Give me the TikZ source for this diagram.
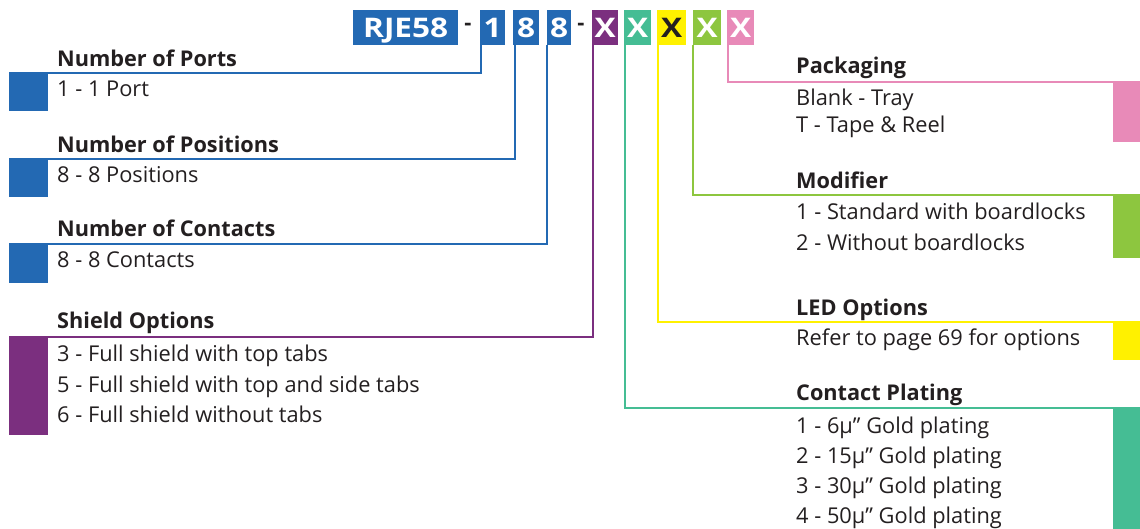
\documentclass[tikz,border=0pt]{standalone}
\usepackage{fontspec}
\setmainfont{Open Sans}
\newfontfamily\hdrfont[FakeStretch=1.17]{Open Sans}
\definecolor{cblue}{HTML}{2369B3}
\definecolor{cpurple}{HTML}{7B2F7F}
\definecolor{cteal}{HTML}{45BD94}
\definecolor{cyellow}{HTML}{FFF100}
\definecolor{clime}{HTML}{8DC63F}
\definecolor{cpink}{HTML}{E88AB8}
\definecolor{txt}{HTML}{231F20}
\begin{document}
\begin{tikzpicture}[x=1pt,y=-1pt,
  hdr/.style={anchor=north west, inner sep=0pt, minimum height=35pt, text=white,
    text height=19.5pt, text depth=0pt,
    font=\hdrfont\fontsize{27}{27}\selectfont\bfseries},
  hyph/.style={inner sep=0pt, text=txt, font=\fontsize{22}{22}\selectfont\bfseries},
  sq/.style={anchor=north west, inner sep=0pt, draw=none},
  lbl/.style={anchor=base west, inner sep=0pt, text=txt, font=\fontsize{21.8}{21.8}\selectfont},
  ttl/.style={anchor=base west, inner sep=0pt, text=txt, font=\fontsize{21.7}{21.7}\selectfont\bfseries},
  conn/.style={line width=2.2pt}]
\useasboundingbox (0,0) rectangle (1140,529);
% header
\node[hdr, fill=cblue, minimum width=105pt] (rje) at (353,10) {RJE58};
\node[hyph] (d1) at (468,27) {-};
\node[hdr, fill=cblue, minimum width=25pt] (b1) at (480,10) {1};
\node[hdr, fill=cblue, minimum width=26pt] (b2) at (513,10) {8};
\node[hdr, fill=cblue, minimum width=24pt] (b3) at (547,10) {8};
\node[hyph] (d2) at (581,27) {-};
\node[hdr, fill=cpurple, minimum width=26pt] (xs) at (592,10) {X};
\node[hdr, fill=cteal, minimum width=27pt] (xc) at (624,10) {X};
\node[hdr, fill=cyellow, minimum width=29pt, text=txt] (xl) at (657,10) {X};
\node[hdr, fill=clime, minimum width=28pt] (xm) at (693,10) {X};
\node[hdr, fill=cpink, minimum width=27pt] (xp) at (727,10) {X};
% left squares
\node[sq, fill=cblue, minimum width=39pt, minimum height=39pt] (sqA) at (9,72) {};
\node[sq, fill=cblue, minimum width=39pt, minimum height=39pt] (sqB) at (9,158) {};
\node[sq, fill=cblue, minimum width=39pt, minimum height=40pt] (sqC) at (9,243) {};
\node[sq, fill=cpurple, minimum width=39pt, minimum height=99pt] (sqD) at (9,336) {};
% right squares
\node[sq, fill=cpink, minimum width=27pt, minimum height=61pt] (sqP) at (1113,81) {};
\node[sq, fill=clime, minimum width=27pt, minimum height=64pt] (sqM) at (1113,194) {};
\node[sq, fill=cyellow, minimum width=27pt, minimum height=39pt] (sqL) at (1113,321) {};
\node[sq, fill=cteal, minimum width=27pt, minimum height=122pt] (sqT) at (1113,407) {};
% connectors
\draw[conn, cblue] ([xshift=1pt]b1.south west) |- ([yshift=-1pt]sqA.north east);
\draw[conn, cblue] ([xshift=2pt]b2.south west) |- ([yshift=-1pt]sqB.north east);
\draw[conn, cblue] ([xshift=0pt]b3.south west) |- ([yshift=-1pt]sqC.north east);
\draw[conn, cpurple] ([xshift=1pt]xs.south west) |- ([yshift=-1pt]sqD.north east);
\draw[conn, cteal] ([xshift=1pt]xc.south west) |- ([yshift=-1pt]sqT.north west);
\draw[conn, cyellow] ([xshift=1pt]xl.south west) |- ([yshift=-1pt]sqL.north west);
\draw[conn, clime] ([xshift=0pt]xm.south west) |- ([yshift=-1pt]sqM.north west);
\draw[conn, cpink] ([xshift=1pt]xp.south west) |- ([yshift=-1pt]sqP.north west);
% left texts
\node[ttl] (tA) at (57,67) {Number of Ports};
\node[lbl] (lA1) at (57,97) {1 - 1 Port};
\node[ttl] (tB) at (57,153) {Number of Positions};
\node[lbl] (lB1) at (57,183) {8 - 8 Positions};
\node[ttl] (tC) at (57,237) {Number of Contacts};
\node[lbl] (lC1) at (57,268) {8 - 8 Contacts};
\node[ttl] (tD) at (57,328) {Shield Options};
\node[lbl] (lD1) at (57,361) {3 - Full shield with top tabs};
\node[lbl] (lD2) at (57,392) {5 - Full shield with top and side tabs};
\node[lbl] (lD3) at (57,422) {6 - Full shield without tabs};
% right texts
\node[ttl] (tP) at (796,74) {Packaging};
\node[lbl] (lP1) at (796,106) {Blank - Tray};
\node[lbl] (lP2) at (796,133) {T - Tape \& Reel};
\node[ttl] (tM) at (796,189) {Modifier};
\node[lbl] (lM1) at (796,220) {1 - Standard with boardlocks};
\node[lbl] (lM2) at (796,251) {2 - Without boardlocks};
\node[ttl] (tL) at (796,315) {LED Options};
\node[lbl] (lL1) at (796,345) {Refer to page 69 for options};
\node[ttl] (tT) at (796,400) {Contact Plating};
\node[lbl] (lT1) at (796,433) {1 - 6µ” Gold plating};
\node[lbl] (lT2) at (796,463) {2 - 15µ” Gold plating};
\node[lbl] (lT3) at (796,493) {3 - 30µ” Gold plating};
\node[lbl] (lT4) at (796,523) {4 - 50µ” Gold plating};
\end{tikzpicture}
\end{document}
